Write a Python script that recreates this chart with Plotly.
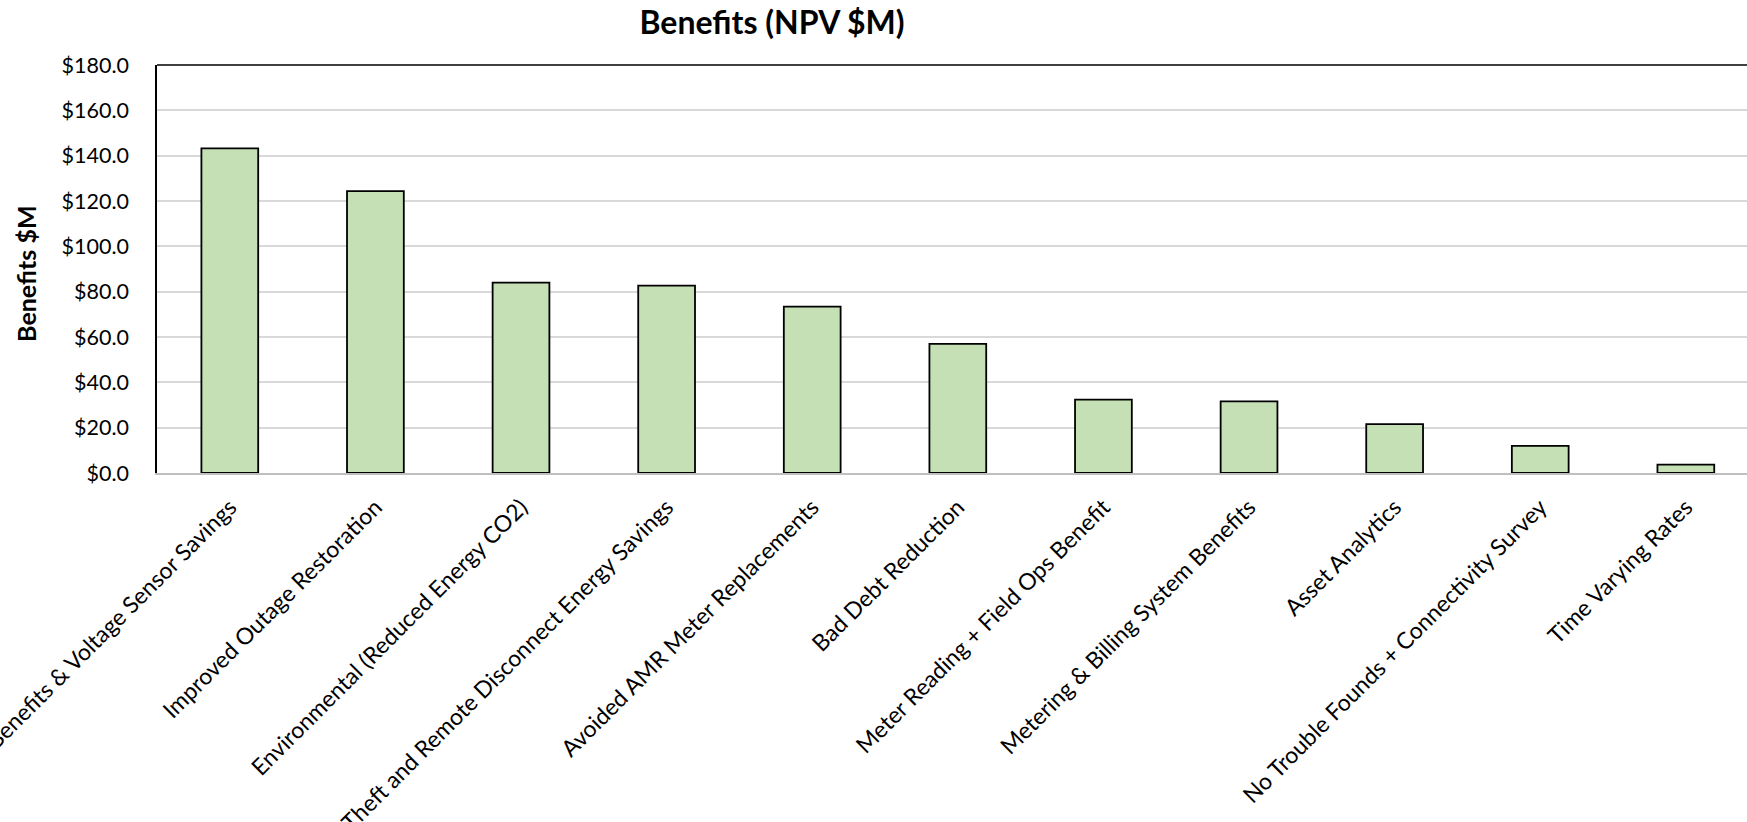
import plotly.graph_objects as go

# Benefit categories and their net present values ($M)
categories = [
    "CVR Benefits & Voltage Sensor Savings",
    "Improved Outage Restoration",
    "Environmental (Reduced Energy CO2)",
    "Theft and Remote Disconnect Energy Savings",
    "Avoided AMR Meter Replacements",
    "Bad Debt Reduction",
    "Meter Reading + Field Ops Benefit",
    "Metering & Billing System Benefits",
    "Asset Analytics",
    "No Trouble Founds + Connectivity Survey",
    "Time Varying Rates",
]
benefits_npv = [143.2, 124.4, 84.0, 82.7, 73.4, 57.0, 32.4, 31.6, 21.6, 12.0, 3.7]

y_tick_values = [0, 20, 40, 60, 80, 100, 120, 140, 160, 180]
y_tick_labels = ["$0.0", "$20.0", "$40.0", "$60.0", "$80.0", "$100.0",
                 "$120.0", "$140.0", "$160.0", "$180.0"]

FONT = "Lato"
W, H = 1747, 822
LEFT, TOP, BOTTOM = 157, 65, 349
PLOT_W = W - LEFT

fig = go.Figure(
    go.Bar(
        x=categories,
        y=benefits_npv,
        width=0.39,
        marker=dict(color="#C5E0B4", line=dict(color="#000000", width=1.8)),
    )
)

fig.update_layout(
    width=W,
    height=H,
    margin=dict(l=LEFT, r=0, t=TOP, b=BOTTOM, pad=0),
    paper_bgcolor="white",
    plot_bgcolor="white",
    showlegend=False,
    font=dict(family=FONT, color="#000000"),
    title=dict(
        text="<b>Benefits (NPV $M)</b>",
        font=dict(family=FONT, size=32, color="#000000"),
        x=(772 - LEFT) / PLOT_W,
        xanchor="center",
        xref="paper",
        y=1 - 23 / H,
        yanchor="middle",
        yref="container",
    ),
    xaxis=dict(
        type="category",
        range=[-0.5, 10.42],
        tickangle=-45,
        tickfont=dict(family=FONT, size=23, color="#000000"),
        showgrid=False,
        showline=True,
        linecolor="#BFBFBF",
        linewidth=1.5,
        ticks="",
        ticklabelstandoff=10,
        automargin=False,
    ),
    yaxis=dict(
        range=[0, 180],
        tickvals=y_tick_values,
        ticktext=y_tick_labels,
        tickfont=dict(family=FONT, size=21.5, color="#000000"),
        showgrid=True,
        gridcolor="#D9D9D9",
        gridwidth=1.5,
        zeroline=False,
        showline=True,
        linecolor="#000000",
        linewidth=1.5,
        ticks="",
        ticklabelstandoff=22,
        automargin=False,
    ),
    annotations=[
        dict(
            text="<b>Benefits $M</b>",
            textangle=-90,
            xref="paper",
            yref="paper",
            x=(26 - LEFT) / PLOT_W,
            y=0.488,
            xanchor="center",
            yanchor="middle",
            showarrow=False,
            font=dict(family=FONT, size=25, color="#000000"),
        )
    ],
    shapes=[
        # top border of the plot area
        dict(
            type="line",
            xref="paper",
            yref="paper",
            x0=0,
            x1=1,
            y0=1,
            y1=1,
            line=dict(color="#000000", width=1.6),
        )
    ],
)

fig.write_html("out.html")
